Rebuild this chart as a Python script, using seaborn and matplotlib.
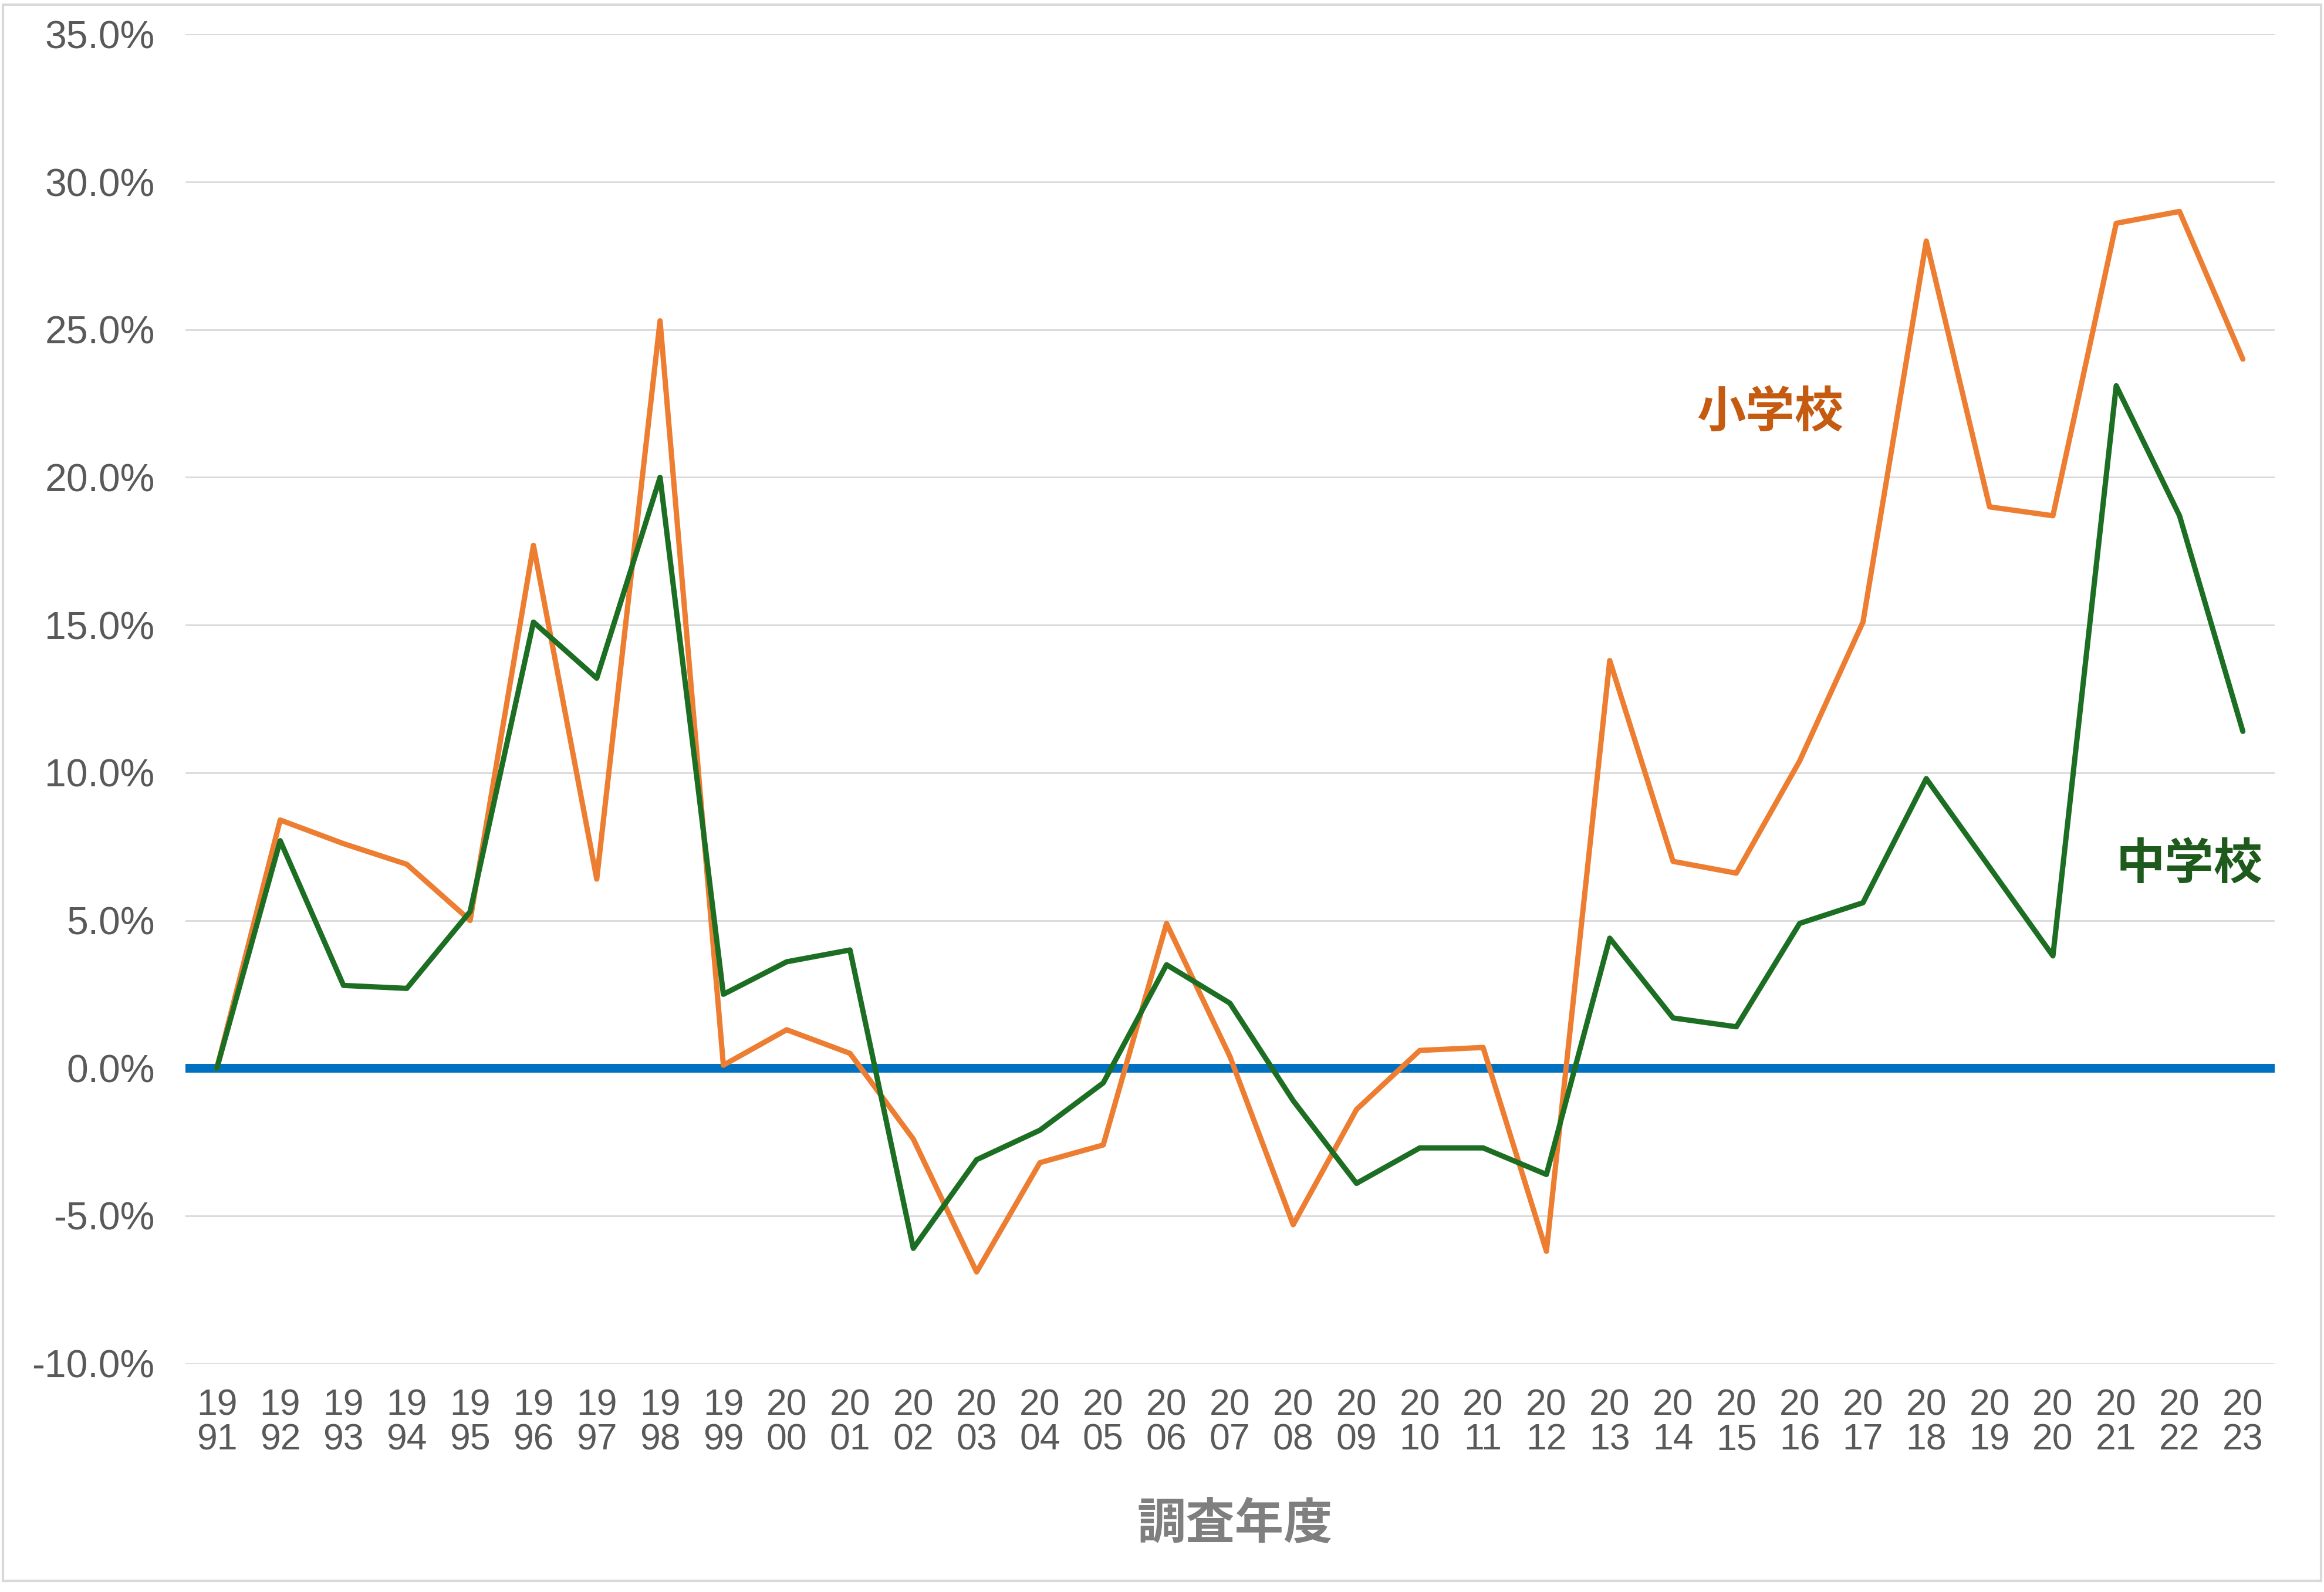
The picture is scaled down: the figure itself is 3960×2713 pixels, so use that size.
import matplotlib
matplotlib.use("Agg")
import matplotlib.pyplot as plt
import numpy as np
import pandas as pd
import seaborn as sns
from matplotlib.patches import Rectangle
from matplotlib.ticker import FuncFormatter

years = list(range(1991, 2024))

# 前年度比の増加率 (%)
elementary = [
    0.0, 8.4, 7.6, 6.9, 5.0, 17.7, 6.4, 25.3, 0.1, 1.3, 0.5,
    -2.4, -6.9, -3.2, -2.6, 4.9, 0.4, -5.3, -1.4, 0.6, 0.7,
    -6.2, 13.8, 7.0, 6.6, 10.4, 15.1, 28.0, 19.0, 18.7, 28.6, 29.0, 24.0,
]
junior_high = [
    0.0, 7.7, 2.8, 2.7, 5.3, 15.1, 13.2, 20.0, 2.5, 3.6, 4.0,
    -6.1, -3.1, -2.1, -0.5, 3.5, 2.2, -1.1, -3.9, -2.7, -2.7,
    -3.6, 4.4, 1.7, 1.4, 4.9, 5.6, 9.8, 6.8, 3.8, 23.1, 18.7, 11.4,
]
series_names = ["小学校", "中学校"]
y_ticks = [-10, -5, 0, 5, 10, 15, 20, 25, 30, 35]
x_labels = [f"{y // 100}\n{y % 100:02d}" for y in years]

line_colors = {"小学校": "#ED7D31", "中学校": "#1C6E23"}
label_colors = {"小学校": "#C55A11", "中学校": "#1E5A1B"}

df = pd.DataFrame({
    "year": years * 2,
    "rate": elementary + junior_high,
    "school": [series_names[0]] * len(years) + [series_names[1]] * len(years),
})

sns.set_theme(style="white")
plt.rcParams["font.family"] = ["Liberation Sans", "Noto Sans CJK JP", "DejaVu Sans"]

fig = plt.figure(figsize=(15.84, 10.852), dpi=250)
ax = fig.add_axes([0.0797, 0.1435, 0.899, 0.835])

for v in y_ticks:
    if v != 0:
        ax.axhline(v, color="#D9D9D9", lw=0.8, zorder=0)
ax.axhline(0, color="#0070C0", lw=4.3, zorder=1)

sns.lineplot(
    data=df, x="year", y="rate", hue="school", palette=line_colors,
    linewidth=2.6, legend=False, ax=ax, zorder=3,
)

ax.set_xlim(years[0] - 0.5, years[-1] + 0.5)
ax.set_ylim(y_ticks[0], y_ticks[-1])
ax.set_yticks(y_ticks)
ax.yaxis.set_major_formatter(FuncFormatter(lambda v, _: f"{v:.1f}%"))
ax.set_xticks(years)
ax.set_xticklabels(x_labels, linespacing=1.0)
ax.tick_params(axis="y", labelsize=19, colors="#595959", length=0, pad=15)
ax.tick_params(axis="x", labelsize=18, colors="#595959", length=0, pad=12)
ax.set_xlabel("")
ax.set_ylabel("")
for s in ax.spines.values():
    s.set_visible(False)

ax.text(2015.53, 22.2, series_names[0], color=label_colors["小学校"], fontsize=24,
        fontweight="bold", family=["Noto Sans CJK JP"], ha="center", va="center")
ax.text(2022.16, 6.9, series_names[1], color=label_colors["中学校"], fontsize=24,
        fontweight="bold", family=["Noto Sans CJK JP"], ha="center", va="center")

fig.text(0.5315, 0.043, "調査年度", color="#7F7F7F", fontsize=24, fontweight="bold",
         family=["Noto Sans CJK JP"], ha="center", va="center")

fig.patches.append(Rectangle((0.0013, 0.007), 0.9975, 0.990, transform=fig.transFigure,
                             fill=False, edgecolor="#D9D9D9", lw=1.2))

fig.savefig("out.png", dpi=250, facecolor="white")
